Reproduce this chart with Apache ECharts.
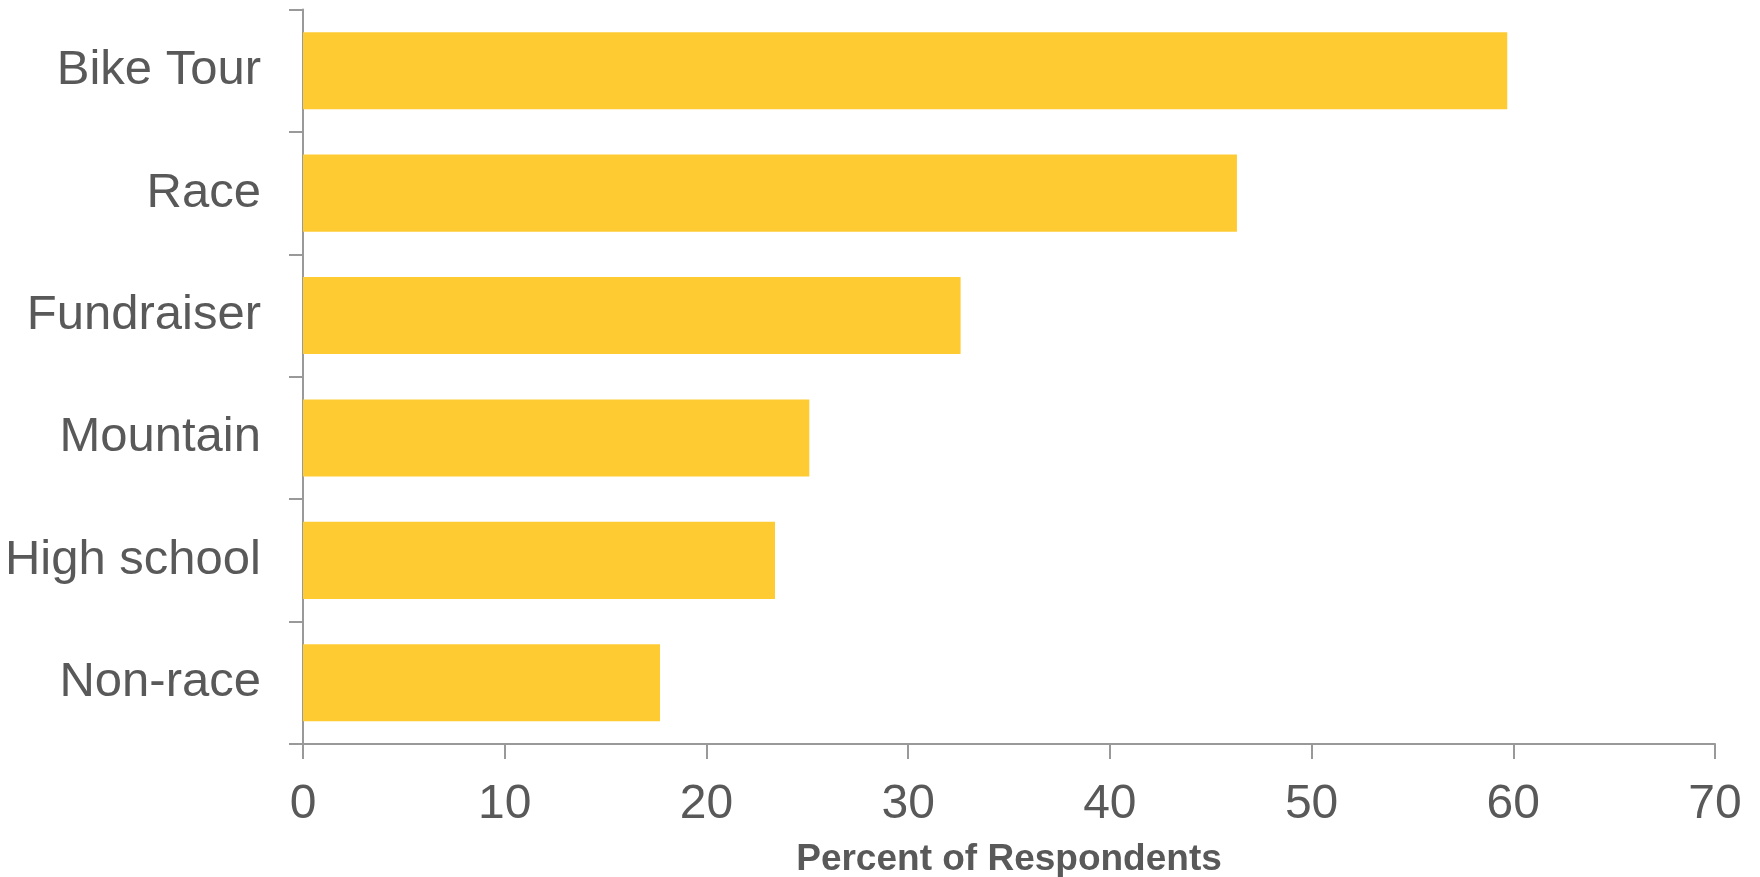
<!DOCTYPE html>
<html>
<head>
<meta charset="utf-8">
<title>Percent of Respondents</title>
<script src="https://cdn.jsdelivr.net/npm/echarts@6/dist/echarts.min.js"></script>
<style>
  html, body { margin: 0; padding: 0; background: #ffffff; }
  #chart { width: 1760px; height: 877px; }
</style>
</head>
<body>
<div id="chart"></div>
<script>
// Ride types, listed top to bottom
const categories = ['Bike Tour', 'Race', 'Fundraiser', 'Mountain', 'High school', 'Non-race'];
// Share of respondents (%)
const percents = [59.7, 46.3, 32.6, 25.1, 23.4, 17.7];
// Value axis ticks
const xTicks = [0, 10, 20, 30, 40, 50, 60, 70];

const textColor = '#595959';
const axisColor = '#999999';
const fontFamily = '"Liberation Sans", Arial, sans-serif';

const chart = echarts.init(document.getElementById('chart'), null, { renderer: 'canvas' });
chart.setOption({
  animation: false,
  backgroundColor: '#ffffff',
  grid: { left: 303, right: 45, top: 9.5, bottom: 133, containLabel: false, outerBoundsMode: 'none' },
  xAxis: {
    type: 'value',
    min: xTicks[0],
    max: xTicks[xTicks.length - 1],
    interval: xTicks[1] - xTicks[0],
    name: 'Percent of Respondents',
    nameLocation: 'middle',
    nameGap: 97,
    nameTextStyle: { color: textColor, fontSize: 37, fontWeight: 'bold', fontFamily: fontFamily },
    axisLine: { show: true, lineStyle: { color: axisColor, width: 2 } },
    axisTick: { show: true, inside: false, length: 15, lineStyle: { color: axisColor, width: 2 } },
    axisLabel: { color: textColor, fontSize: 48, fontFamily: fontFamily, margin: 37 },
    splitLine: { show: false }
  },
  yAxis: {
    type: 'category',
    data: categories,
    inverse: true,
    boundaryGap: true,
    axisLine: { show: true, lineStyle: { color: axisColor, width: 2 } },
    axisTick: { show: true, inside: false, length: 14, alignWithLabel: false, lineStyle: { color: axisColor, width: 2 } },
    axisLabel: { color: textColor, fontSize: 49, fontFamily: fontFamily, margin: 42 },
    splitLine: { show: false }
  },
  series: [{
    type: 'bar',
    data: percents,
    barCategoryGap: '37%',
    itemStyle: { color: '#FFCB33' },
    silent: true
  }]
});
</script>
</body>
</html>
